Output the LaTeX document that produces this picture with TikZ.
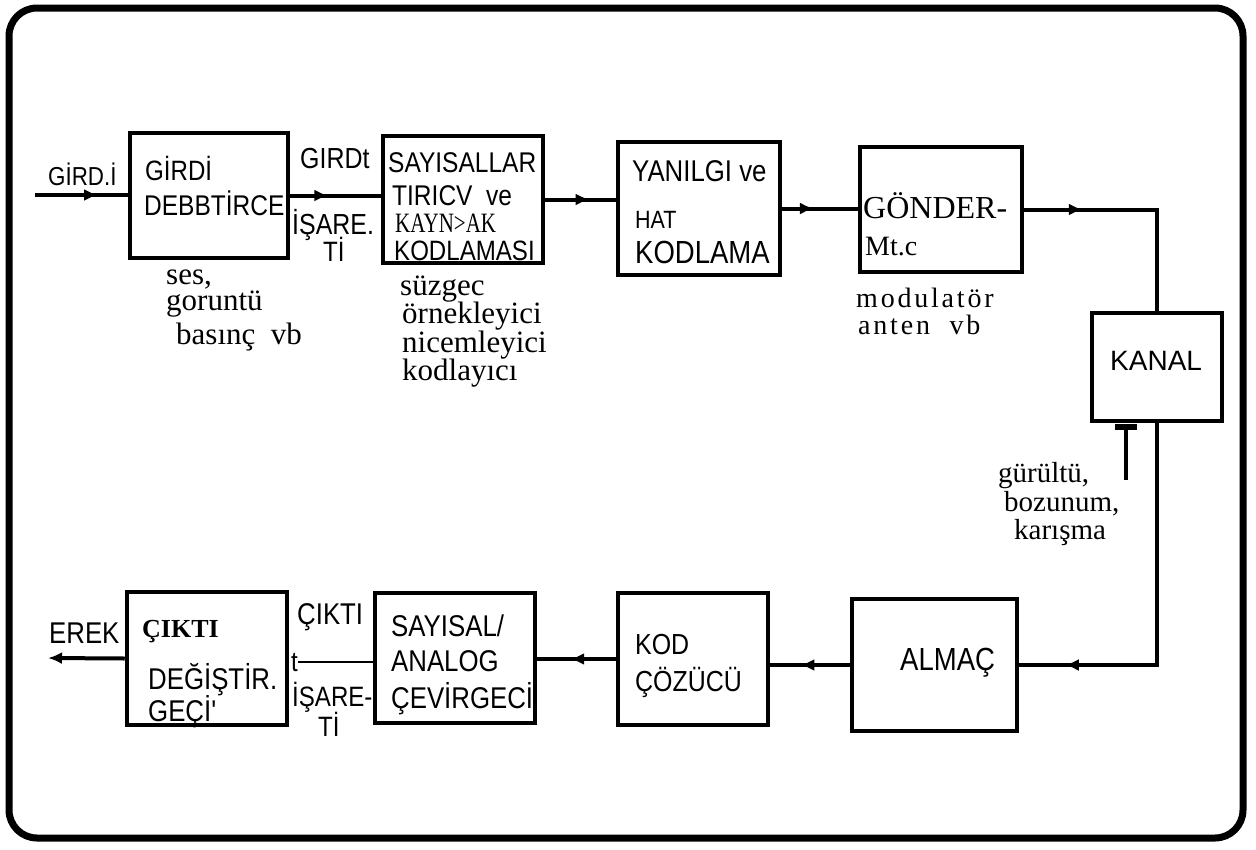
\documentclass[tikz,border=0pt]{standalone}
\usepackage{fontspec}
\setmainfont{Liberation Serif}
\newfontfamily\boxsans[FakeStretch=0.86]{Liberation Sans}
\newfontfamily\plainsans{Liberation Sans}
\newfontfamily\narrowserif[FakeStretch=0.75]{Liberation Serif}
\newfontfamily\spacedserif[LetterSpace=10]{Liberation Serif}
\usetikzlibrary{arrows.meta, decorations.markings, positioning}

\begin{document}
\begin{tikzpicture}[x=1pt, y=-1pt,
    box/.style={draw, line width=4.5pt, inner sep=0pt},
    conn/.style={line width=4pt},
    tag/.style={anchor=base west, inner sep=0pt, font=\boxsans\fontsize{#1}{#1}\selectfont},
    tag/.default=29,
    note/.style={anchor=base west, inner sep=0pt, font=\fontsize{#1}{#1}\selectfont},
    note/.default=31,
    mid/.style={postaction={decorate}, decoration={markings, mark=at position #1 with {\arrow{Latex[length=14pt,width=12pt]}}}}]
    \useasboundingbox (0,0) rectangle (1256,849);
    \draw[line width=7pt, rounded corners=28pt] (9,8) rectangle (1243,838);

    % blocks
    \node[box, minimum width=158pt, minimum height=125pt] (sensor) at (209,195.5) {};
    \node[box, minimum width=160pt, minimum height=127pt] (adc) at (463,199.5) {};
    \node[box, minimum width=162pt, minimum height=133pt] (linecode) at (699,208.5) {};
    \node[box, minimum width=162pt, minimum height=125pt] (tx) at (941,209.5) {};
    \node[box, minimum width=130pt, minimum height=108pt] (kanal) at (1157,367) {};
    \node[box, minimum width=165pt, minimum height=132pt] (rx) at (934.5,665) {};
    \node[box, minimum width=150pt, minimum height=132pt] (dec) at (693,659) {};
    \node[box, minimum width=160pt, minimum height=130pt] (dac) at (455,658) {};
    \node[box, minimum width=160pt, minimum height=133pt] (actuator) at (207,658.5) {};

    % block texts
    \node[tag=28] (t1a) at (145,180) {GİRDİ};
    \node[tag=28.5] (t1b) at (144,215) {DEBBTİRCE};
    \node[tag=28.5] (t2a) at (388,172) {SAYISALLAR};
    \node[tag=28.5] (t2b) at (392,205) {TIRICV\ \ ve};
    \node[tag, font=\narrowserif\fontsize{28}{28}\selectfont] (t2c) at (395,232) {KAYN>AK};
    \node[tag=28] (t2d) at (394,260) {KODLAMASI};
    \node[tag=30] (t3a) at (632,181) {YANILGI ve};
    \node[tag=25] (t3b) at (635,228) {HAT};
    \node[tag=32] (t3c) at (635,263) {KODLAMA};
    \node[note=32] (t4a) at (863,218) {GÖNDER-};
    \node[note=28] (t4b) at (865,255) {Mt.c};
    \node[tag, font=\plainsans\fontsize{28}{28}\selectfont] (t5) at (1110,370) {KANAL};
    \node[tag=32] (t6) at (900,670) {ALMAÇ};
    \node[tag=29] (t7a) at (635,654) {KOD};
    \node[tag=29] (t7b) at (635,691) {ÇÖZÜCÜ};
    \node[tag=30] (t8a) at (391,636) {SAYISAL/};
    \node[tag=30] (t8b) at (391,671) {ANALOG};
    \node[tag=30] (t8c) at (391,708) {ÇEVİRGECİ};
    \node[note=26, font=\bfseries\fontsize{26}{26}\selectfont] (t9a) at (142,637) {ÇIKTI};
    \node[tag=30] (t9b) at (148,689) {DEĞİŞTİR.};
    \node[tag=30] (t9c) at (148,721) {GEÇİ'};

    % signal labels
    \node[tag=26] (girdi) at (48,185) {GİRD.İ};
    \node[tag=29] (sig1a) at (300,168) {GIRDt};
    \node[tag=29] (sig1b) at (292,234) {İŞARE.};
    \node[tag=28] (sig1c) at (323,261) {Tİ};
    \node[tag=30] (erektxt) at (49,643) {EREK};
    \node[tag=30] (sig2a) at (297,624) {ÇIKTI};
    \node[tag=28] (tline) at (291,671) {t};
    \node[tag=28] (sig2b) at (292,706) {İŞARE-};
    \node[tag=28] (sig2c) at (318,736) {Tİ};

    % notes under blocks
    \node[note] (n1a) at (166,284) {ses,};
    \node[note] (n1b) at (166,310) {goruntü};
    \node[note] (n1c) at (176,344) {basınç\ \ vb};
    \node[note=31] (n2a) at (400,295) {süzgec};
    \node[note=31] (n2b) at (402,323) {örnekleyici};
    \node[note=31] (n2c) at (402,352) {nicemleyici};
    \node[note=31] (n2d) at (402,380) {kodlayıcı};
    \node[note, font=\spacedserif\fontsize{28}{28}\selectfont] (n4a) at (856,307) {modulatör};
    \node[note, font=\spacedserif\fontsize{28}{28}\selectfont] (n4b) at (858,334) {anten\ \ vb};
    \node[note=29] (n5a) at (998,482) {gürültü,};
    \node[note=29] (n5b) at (1004,511) {bozunum,};
    \node[note=29] (n5c) at (1014,539) {karışma};

    % connectors
    \coordinate (src) at (35,195);
    \coordinate (erek) at (48,658);
    \coordinate (nz) at (1126,427);
    \draw[conn, mid=0.68] (src) -- (src -| sensor.west);
    \draw[conn, mid=0.42] (sensor.east) -- (sensor.east -| adc.west);
    \draw[conn, mid=0.63] (adc.east) -- (adc.east -| linecode.west);
    \draw[conn, mid=0.42] (linecode.east) -- (linecode.east -| tx.west);
    \draw[conn, mid=0.25] (tx.east) -| (kanal.north);
    \draw[conn, mid=0.88] (kanal.south) |- (rx.east);
    \draw[conn, mid=0.62] (rx.west) -- (rx.west -| dec.east);
    \draw[conn, mid=0.58] (dec.west) -- (dec.west -| dac.east);
    \draw[line width=1.5pt] (tline.east) -- (tline.east -| dac.west);
    \draw[conn, -{Latex[length=14pt,width=12pt]}] (actuator.west) -- (erek);
    \draw[conn] (nz) -- ++(0,53);
    \draw[line width=6pt] (nz) ++(-11,0) -- ++(22,0);
\end{tikzpicture}
\end{document}
